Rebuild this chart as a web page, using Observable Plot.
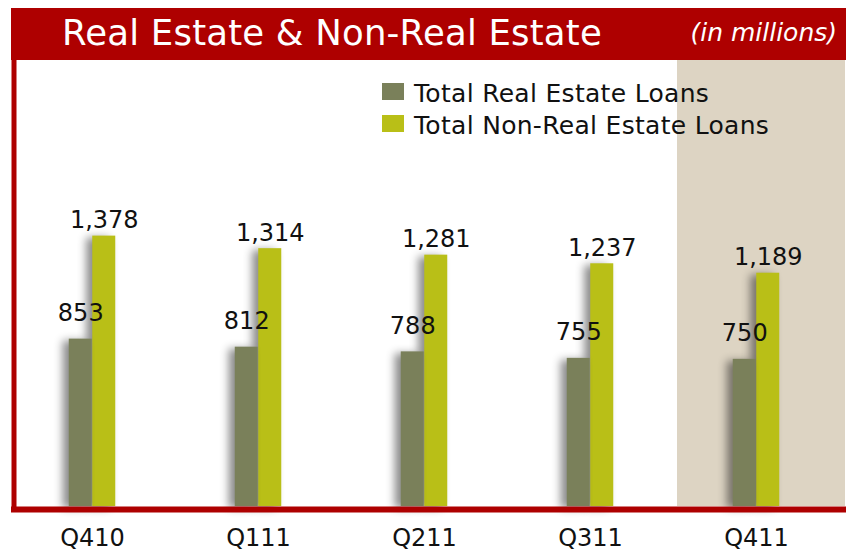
<!DOCTYPE html>
<html><head><meta charset="utf-8">
<script src="https://cdn.jsdelivr.net/npm/d3@7"></script>
<script src="https://cdn.jsdelivr.net/npm/@observablehq/plot@0.6"></script>
<style>
body{margin:0;background:#fff;font-family:"DejaVu Sans",sans-serif;}
#wrap{position:relative;width:846px;height:553px;overflow:hidden;}
#header{position:absolute;left:11px;top:8px;width:835px;height:52px;background:#ae0000;}
#title{position:absolute;left:51px;top:7px;font-size:35.5px;line-height:35px;color:#fff;white-space:nowrap;letter-spacing:0.2px;}
#sub{position:absolute;right:9px;top:12px;font-size:25px;line-height:25px;color:#fff;font-style:italic;white-space:nowrap;}
#chart{position:absolute;left:0;top:60px;}
.leg{position:absolute;left:382px;height:32px;white-space:nowrap;}
.leg .sw{position:absolute;left:0;width:22px;height:17px;}
.leg .tx{position:absolute;left:32px;font-size:25px;line-height:25px;color:#111;letter-spacing:0.3px;}
.re-bars, .nre-bars{filter:drop-shadow(-6px 2px 4px rgba(0,0,0,0.45));}
</style></head>
<body>
<div id="wrap">
  <div id="header"><span id="title"></span><span id="sub"></span></div>
  <div id="chart"></div>
  <div id="legend"></div>
</div>
<script>
const titleText = "Real Estate & Non-Real Estate";
const subText = "(in millions)";
const quarters = ["Q410", "Q111", "Q211", "Q311", "Q411"];
const realEstate = [853, 812, 788, 755, 750];
const nonRealEstate = [1378, 1314, 1281, 1237, 1189];
const seriesNames = ["Total Real Estate Loans", "Total Non-Real Estate Loans"];
const seriesColors = ["#7a805a", "#b9bf17"];
const highlightQuarter = "Q411";

document.getElementById("title").textContent = titleText;
document.getElementById("sub").textContent = subText;

const legend = document.getElementById("legend");
seriesNames.forEach((name, i) => {
  const row = document.createElement("div");
  row.className = "leg";
  row.style.top = (83 + i * 32) + "px";
  row.innerHTML = `<span class="sw" style="top:0;background:${seriesColors[i]}"></span><span class="tx" style="top:-2px">${name}</span>`;
  legend.appendChild(row);
});

const data = quarters.map((q, i) => ({q, re: realEstate[i], nre: nonRealEstate[i]}));
const fmt = d3.format(",");
const half = 166.5 / 2, bw = 23.5;

const chart = Plot.plot({
  width: 846,
  height: 493,
  marginTop: 0,
  marginBottom: 47,
  marginLeft: 13.5,
  marginRight: 0,
  style: {fontFamily: "DejaVu Sans", fontSize: "24px", color: "#111", background: "transparent"},
  x: {type: "band", domain: quarters, range: [7, 840], padding: 0, label: null},
  y: {domain: [0, 2273], axis: null},
  marks: [
    Plot.cell([highlightQuarter], {x: d => d, fill: "#ddd4c3", insetLeft: 4, insetRight: -6}),
    Plot.barY(data, {x: "q", y: "nre", fill: seriesColors[1], insetLeft: half, insetRight: half - bw, className: "nre-bars"}),
    Plot.barY(data, {x: "q", y: "re", fill: seriesColors[0], insetLeft: half - bw, insetRight: half, className: "re-bars"}),
    Plot.text(data, {x: "q", y: "re", text: d => fmt(d.re), dx: -bw / 2, dy: -18, lineAnchor: "bottom", fontSize: 24, fill: "#111"}),
    Plot.text(data, {x: "q", y: "nre", text: d => fmt(d.nre), dx: bw / 2, dy: -8, lineAnchor: "bottom", fontSize: 24, fill: "#111"}),
    Plot.ruleY([0], {stroke: "#ae0000", strokeWidth: 6, dy: 3, insetLeft: -2.5}),
    Plot.frame({anchor: "left", stroke: "#ae0000", strokeWidth: 5}),
    Plot.axisX({tickSize: 0, tickPadding: 22, fontSize: 24, fill: "#111", label: null})
  ]
});
document.getElementById("chart").appendChild(chart);
</script>
</body></html>
